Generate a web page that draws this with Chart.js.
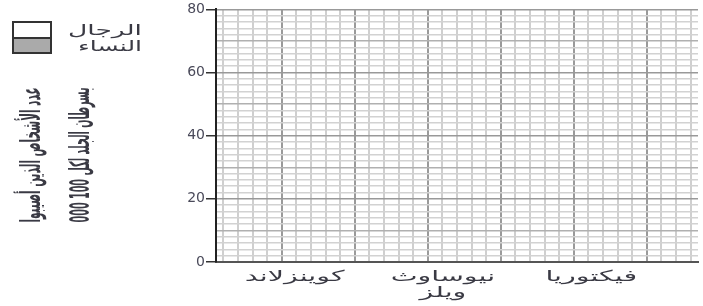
<!DOCTYPE html>
<html>
<head>
<meta charset="utf-8">
<script src="https://cdn.jsdelivr.net/npm/chart.js@4"></script>
<style>
  html, body { margin: 0; padding: 0; background: #fff; }
  #wrap { width: 703px; height: 306px; }
</style>
</head>
<body>
<div id="wrap"><canvas id="chart" width="703" height="306"></canvas></div>
<script>
// DATA
const categories = [['كوينزلاند'], ['نيوساوث', 'ويلز'], ['فيكتوريا']];
const men = [null, null, null];
const women = [null, null, null];
const seriesNames = ['الرجال', 'النساء'];
const yTicks = [0, 20, 40, 60, 80];
const yTitle = ['عدد الأشخاص الذين أصيبوا', 'بسرطان الجلد لكل 100 000'];

const AR_FONT = '"DejaVu Sans", sans-serif';
const TEXT = '#3a3a44';

// squeeze / stretch a string horizontally so it fills w pixels
function fitText(ctx, text, x, y, w, align) {
  ctx.save();
  ctx.translate(x, y);
  ctx.scale(w / ctx.measureText(text).width, 1);
  ctx.textAlign = align || 'center';
  ctx.fillText(text, 0, 0);
  ctx.restore();
}

function stretchText(ctx, text, x, y, sx) {
  ctx.save();
  ctx.translate(x, y);
  ctx.scale(sx, 1);
  ctx.textAlign = 'center';
  ctx.fillText(text, 0, 0);
  ctx.restore();
}

const tv = c => (c.tick ? c.tick.value : 0);

// legend, y title and category labels
const decor = {
  id: 'decor',
  afterDraw(chart) {
    const ctx = chart.ctx;
    const x = chart.scales.x;
    ctx.save();
    ctx.fillStyle = TEXT;
    ctx.textBaseline = 'middle';

    // category labels
    ctx.font = '15px ' + AR_FONT;
    categories.forEach((lines, i) => {
      const px = x.getPixelForValue(i + 0.5);
      lines.forEach((t, j) => stretchText(ctx, t, px, 277 + j * 16, 1.9));
    });

    // legend
    ctx.strokeStyle = '#333';
    ctx.lineWidth = 2;
    ctx.fillStyle = '#ffffff';
    ctx.fillRect(13, 22, 38, 16);
    ctx.fillStyle = '#aaaaaa';
    ctx.fillRect(13, 38, 38, 15);
    ctx.strokeRect(13, 22, 38, 31);
    ctx.beginPath();
    ctx.moveTo(13, 38); ctx.lineTo(51, 38); ctx.stroke();
    ctx.fillStyle = TEXT;
    ctx.font = '15px ' + AR_FONT;
    fitText(ctx, seriesNames[0], 142, 31, 74, 'right');
    fitText(ctx, seriesNames[1], 142, 47, 64, 'right');

    // rotated y title
    ctx.font = 'bold 27px ' + AR_FONT;
    [33, 82].forEach((cx, i) => {
      ctx.save();
      ctx.translate(cx, 155);
      ctx.rotate(-Math.PI / 2);
      fitText(ctx, yTitle[i], 0, 0, 135, 'center');
      ctx.restore();
    });
    ctx.restore();
  }
};

new Chart(document.getElementById('chart'), {
  type: 'bar',
  data: {
    datasets: [
      { label: seriesNames[0], data: men.map((v, i) => ({ x: i + 0.5, y: v })),
        backgroundColor: '#ffffff', borderColor: '#333', borderWidth: 1.5, xAxisID: 'x' },
      { label: seriesNames[1], data: women.map((v, i) => ({ x: i + 0.5, y: v })),
        backgroundColor: '#aaaaaa', borderColor: '#333', borderWidth: 1.5, xAxisID: 'x' }
    ]
  },
  options: {
    responsive: false,
    animation: false,
    layout: { padding: { left: 181, right: 5, top: 9, bottom: 0 } },
    plugins: { legend: { display: false }, tooltip: { enabled: false } },
    scales: {
      x: {
        type: 'linear', position: 'bottom', min: -0.03, max: 3.22, offset: false,
        grid: { display: false },
        ticks: { display: false },
        border: { display: true, color: '#555', width: 2 },
        afterFit: s => { s.height = 44; }
      },
      xg: {
        type: 'linear', position: 'top', min: 0, max: 33, offset: false,
        ticks: { display: false, stepSize: 1 },
        grid: {
          drawTicks: false,
          color: c => tv(c) % 5 === 0 ? '#9a9a9a' : '#cfcfcf',
          lineWidth: c => tv(c) === 0 ? 0 : 2
        },
        border: { display: false },
        afterFit: s => { s.height = 0; }
      },
      y: {
        min: 0, max: 80,
        ticks: {
          stepSize: 2, autoSkip: false, padding: 1,
          color: '#4a4a5a',
          font: { family: AR_FONT, size: 14 },
          callback: v => yTicks.includes(v) ? String(v) : ''
        },
        grid: {
          tickLength: 10,
          tickColor: c => yTicks.includes(tv(c)) ? '#333' : 'rgba(0,0,0,0)',
          color: c => tv(c) % 20 === 0 ? '#999' : (tv(c) % 10 === 0 ? '#b0b0b0' : '#d2d2d2'),
          lineWidth: 1.5
        },
        border: { color: '#222', width: 2 },
        afterFit: s => { s.width = 35; }
      }
    }
  },
  plugins: [decor]
});
</script>
</body>
</html>
